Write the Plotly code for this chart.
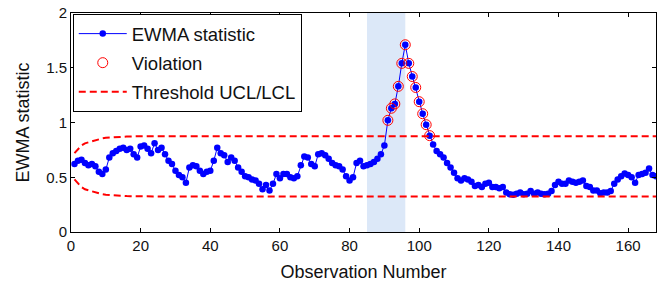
import plotly.graph_objects as go

obs = list(range(1, 169))
ewma = [
    0.62, 0.65, 0.66, 0.63, 0.61, 0.62, 0.60, 0.55, 0.53, 0.57,
    0.68, 0.72, 0.74, 0.76, 0.77, 0.75, 0.76, 0.71, 0.68, 0.78,
    0.79, 0.76, 0.72, 0.81, 0.75, 0.77, 0.71, 0.65, 0.62, 0.56,
    0.52, 0.50, 0.45, 0.59, 0.61, 0.60, 0.56, 0.53, 0.55, 0.56,
    0.65, 0.77, 0.72, 0.70, 0.64, 0.68, 0.65, 0.59, 0.55, 0.51,
    0.50, 0.48, 0.47, 0.44, 0.39, 0.43, 0.38, 0.44, 0.53, 0.49,
    0.53, 0.53, 0.50, 0.49, 0.51, 0.61, 0.69, 0.68, 0.62, 0.60,
    0.71, 0.72, 0.70, 0.67, 0.63, 0.61, 0.60, 0.57, 0.51, 0.47,
    0.50, 0.63, 0.65, 0.60, 0.61, 0.62, 0.64, 0.67, 0.71, 0.79,
    1.02, 1.13, 1.17, 1.33, 1.54, 1.71, 1.54, 1.42, 1.32, 1.19,
    1.08, 0.98, 0.88, 0.80, 0.74, 0.71, 0.68, 0.63, 0.59, 0.54,
    0.49, 0.47, 0.49, 0.48, 0.46, 0.42, 0.43, 0.41, 0.44, 0.45,
    0.41, 0.41, 0.40, 0.41, 0.36, 0.345, 0.34, 0.35, 0.36, 0.345,
    0.35, 0.375, 0.35, 0.36, 0.35, 0.345, 0.35, 0.375, 0.43, 0.46,
    0.44, 0.44, 0.47, 0.46, 0.45, 0.46, 0.47, 0.42, 0.41, 0.38,
    0.38, 0.355, 0.36, 0.36, 0.375, 0.44, 0.48, 0.51, 0.535, 0.52,
    0.50, 0.45, 0.52, 0.53, 0.54, 0.58, 0.52, 0.51,
]
ucl = [0.72, 0.76, 0.79, 0.81, 0.82, 0.83, 0.84, 0.85, 0.855, 0.86,
       0.863, 0.866, 0.868, 0.870, 0.871, 0.872, 0.873, 0.874] + [0.875] * 150
lcl = [0.48, 0.44, 0.41, 0.39, 0.38, 0.37, 0.36, 0.35, 0.345, 0.34,
       0.337, 0.334, 0.332, 0.330, 0.329, 0.328, 0.327, 0.326] + [0.325] * 150
shade_start, shade_end = 85, 96
x_ticks = [0, 20, 40, 60, 80, 100, 120, 140, 160]
y_ticks = [0, 0.5, 1, 1.5, 2]
y_tick_text = ["0", "0.5", "1", "1.5", "2"]

viol_x = [x for x, v, u in zip(obs, ewma, ucl) if v > u]
viol_y = [v for v, u in zip(ewma, ucl) if v > u]

FONT = "Liberation Sans, Arial, sans-serif"
fig = go.Figure()
fig.add_vrect(x0=shade_start, x1=shade_end, fillcolor="rgb(220,232,248)",
              line_width=0, layer="below")
fig.add_trace(go.Scatter(x=obs, y=ewma, mode="lines+markers", name="EWMA statistic",
                         line=dict(color="rgb(0,0,255)", width=1),
                         marker=dict(color="rgb(0,0,255)", size=6.5),
                         legendgroup="a"))
fig.add_trace(go.Scatter(x=viol_x, y=viol_y, mode="markers", name="Violation",
                         marker=dict(symbol="circle-open", color="rgb(255,0,0)", size=10,
                                     line=dict(width=1)),
                         legendgroup="b"))
fig.add_trace(go.Scatter(x=obs, y=ucl, mode="lines", name="Threshold UCL/LCL",
                         line=dict(color="rgb(255,0,0)", width=2, dash="7px,4px"),
                         legendgroup="c"))
fig.add_trace(go.Scatter(x=obs, y=lcl, mode="lines", showlegend=False,
                         line=dict(color="rgb(255,0,0)", width=2, dash="7px,4px"),
                         legendgroup="c"))

axis_common = dict(showline=True, linecolor="black", linewidth=1, mirror="ticks",
                   ticks="inside", ticklen=4, tickcolor="black", showgrid=False,
                   zeroline=False, ticklabeloverflow="allow",
                   tickfont=dict(size=15, color="#111", family=FONT))
fig.update_xaxes(range=[0, 168], tickvals=x_ticks,
                 title=dict(text="Observation Number", font=dict(size=18, color="#111", family=FONT), standoff=12),
                 **axis_common)
fig.update_yaxes(range=[0, 2], tickvals=y_ticks, ticktext=y_tick_text,
                 title=dict(text="EWMA statistic", font=dict(size=18, color="#111", family=FONT), standoff=11),
                 **axis_common)
fig.update_layout(
    width=671, height=285,
    margin=dict(l=71, r=15, t=13, b=53, autoexpand=False),
    paper_bgcolor="white", plot_bgcolor="white",
    font=dict(family=FONT, color="#111"),
    legend=dict(x=0.003, y=0.995, xanchor="left", yanchor="top",
                bgcolor="white", bordercolor="black", borderwidth=1,
                font=dict(size=18.5, family=FONT, color="#111"),
                tracegroupgap=2, itemwidth=48),
    showlegend=True,
)
fig.write_html("out.html", config={"displayModeBar": False},
               post_script="document.body.style.margin='0';")
